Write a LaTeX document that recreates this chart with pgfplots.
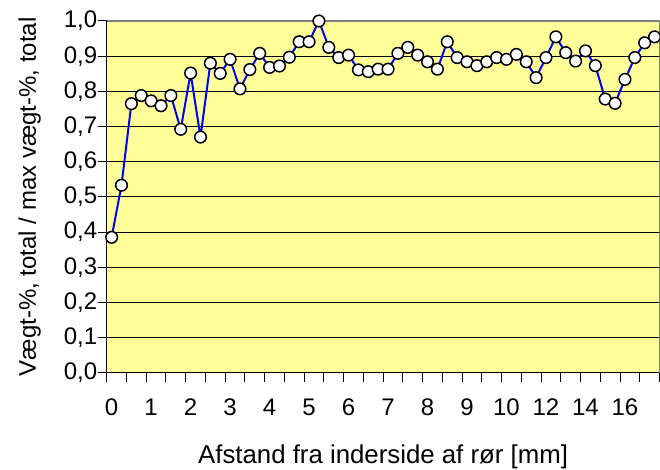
\documentclass[border=0pt]{standalone}
\usepackage{fontspec}
\setmainfont{Liberation Sans}
\usepackage{pgfplots}
\pgfplotsset{compat=1.18}
\definecolor{plotbg}{RGB}{255,255,153}
\definecolor{bordergray}{RGB}{128,128,128}
\begin{document}
\begin{tikzpicture}
\useasboundingbox (-106.7bp,-97.3bp) rectangle (553.3bp,372.7bp);
\begin{axis}[
  scale only axis, width=552.8bp, height=351.7bp,
  at={(0,0)}, anchor=south west,
  font=\fontsize{24bp}{28bp}\selectfont,
  xmin=-0.5, xmax=55.5, ymin=0, ymax=1,
  axis background/.style={fill=plotbg},
  axis x line*=bottom, axis y line*=left,
  axis line style={black, line width=1.2bp},
  tick align=outside, major tick length=9bp,
  tick style={black, line width=1bp},
  xtick={-0.5,1.5,...,55.5}, xticklabels={},
  extra x ticks={0,4,8,12,16,20,24,28,32,36,40,44,48,52},
  extra x tick labels={0,1,2,3,4,5,6,7,8,9,10,12,14,16},
  extra x tick style={major tick length=0pt, xticklabel style={yshift=-23bp}},
  ytick={0,0.1,0.2,0.3,0.4,0.5,0.6,0.7,0.8,0.9,1.0},
  yticklabel style={xshift=3bp, /pgf/number format/.cd, use comma, fixed, fixed zerofill, precision=1, assume math mode=true},
  ymajorgrids, major grid style={black, line width=0.8bp},
  xlabel={Afstand fra inderside af rør [mm]},
  xlabel style={at={(axis description cs:0.5,-0.2405)}, anchor=center, font=\fontsize{25.8bp}{30bp}\selectfont},
  ylabel={Vægt-\%, total / max vægt-\%, total},
  ylabel style={at={(axis description cs:-0.1393,0.5)}, anchor=center},
  clip=false,
]
\addplot[blue, line width=2bp, mark=*, mark size=5.8bp,
  mark options={fill=white, draw=black, line width=1.5bp}] coordinates {
(0,0.385) (1,0.533) (2,0.765) (3,0.788) (4,0.773) (5,0.759) (6,0.788) (7,0.692)
(8,0.852) (9,0.670) (10,0.880) (11,0.851) (12,0.891) (13,0.807) (14,0.862) (15,0.908)
(16,0.868) (17,0.872) (18,0.897) (19,0.941) (20,0.941) (21,1.000) (22,0.925) (23,0.896)
(24,0.903) (25,0.861) (26,0.856) (27,0.863) (28,0.863) (29,0.908) (30,0.925) (31,0.903)
(32,0.884) (33,0.863) (34,0.941) (35,0.896) (36,0.884) (37,0.873) (38,0.884) (39,0.896)
(40,0.891) (41,0.905) (42,0.884) (43,0.839) (44,0.896) (45,0.955) (46,0.910) (47,0.886)
(48,0.915) (49,0.873) (50,0.778) (51,0.766) (52,0.834) (53,0.896) (54,0.938) (55,0.955)
};
\draw[bordergray, line width=1.2bp] (rel axis cs:0,1) -- (rel axis cs:1,1) -- (rel axis cs:1,0);
\end{axis}
\end{tikzpicture}
\end{document}
